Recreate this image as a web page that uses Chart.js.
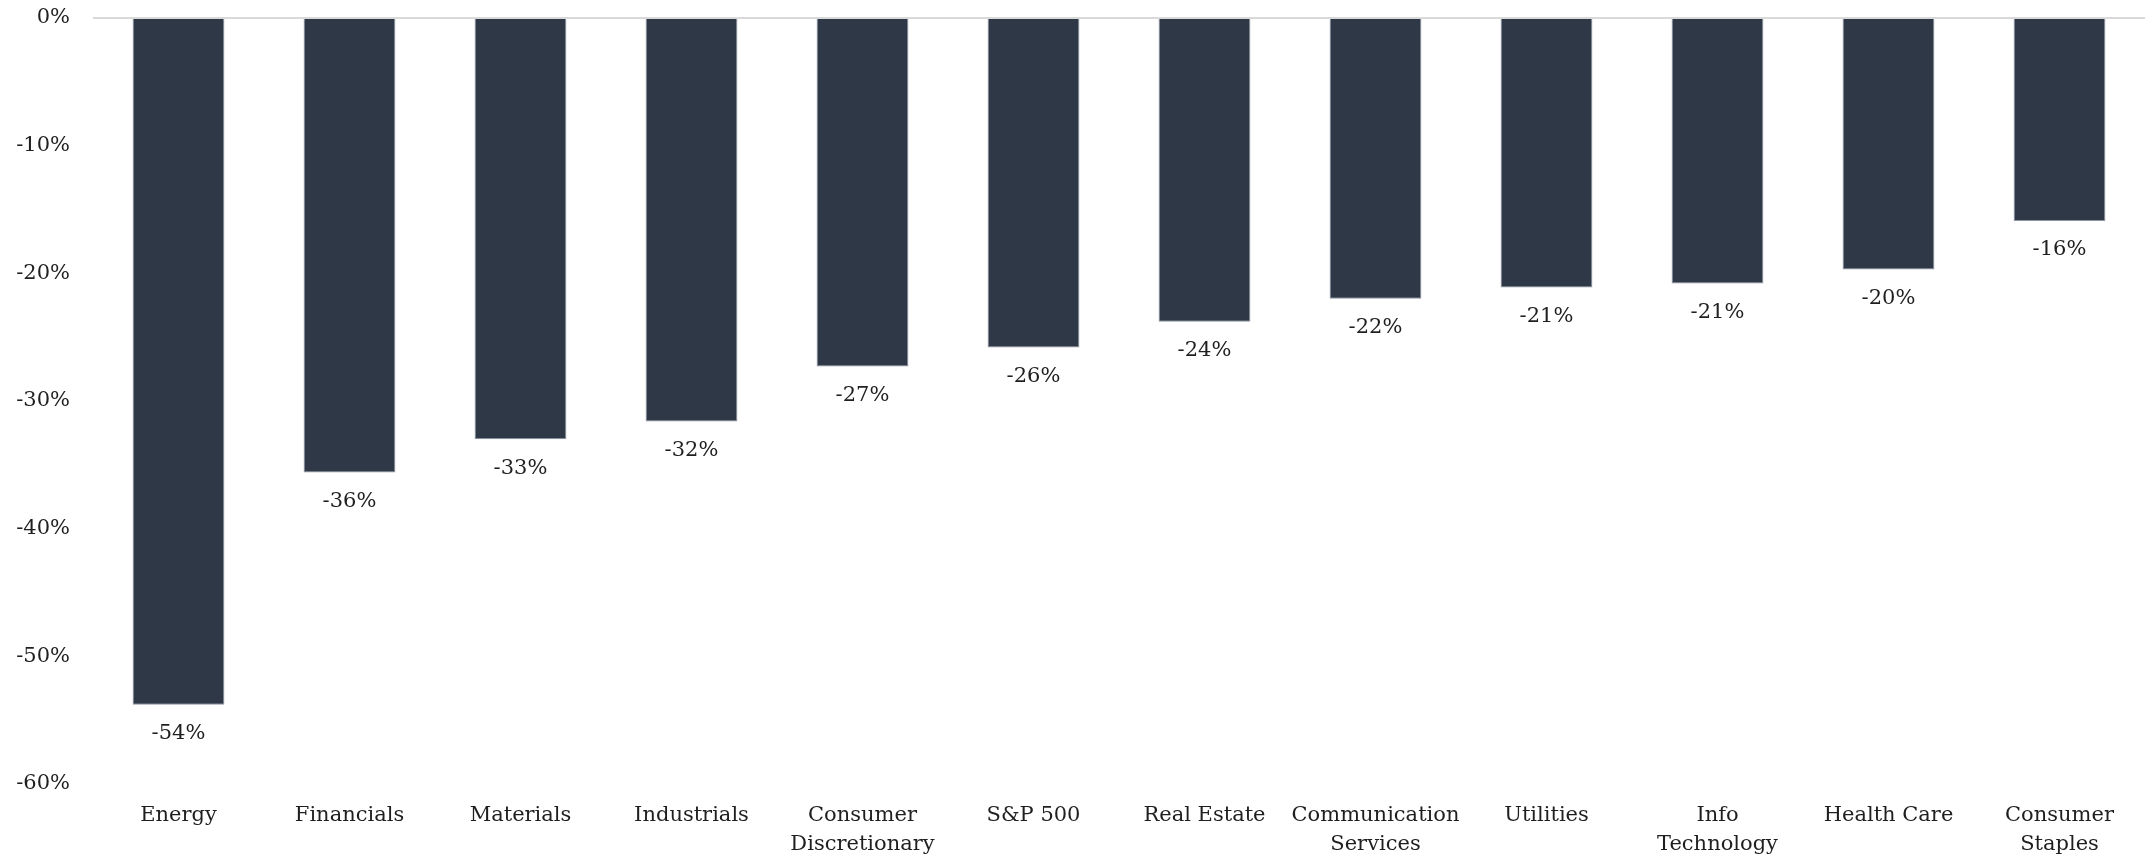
<!DOCTYPE html>
<html>
<head>
<meta charset="utf-8">
<script src="https://cdn.jsdelivr.net/npm/chart.js@4/dist/chart.umd.min.js"></script>
<style>
    html, body { margin: 0; padding: 0; background: #ffffff; }
    #wrap { width: 2148px; height: 857px; }
</style>
</head>
<body>
<div id="wrap"><canvas id="chart" width="2148" height="857"></canvas></div>
<script>
// sector drawdowns, in percent
const sectors = [
    "Energy",
    "Financials",
    "Materials",
    "Industrials",
    ["Consumer", "Discretionary"],
    "S&P 500",
    "Real Estate",
    ["Communication", "Services"],
    "Utilities",
    ["Info", "Technology"],
    "Health Care",
    ["Consumer", "Staples"]
];
const drawdowns = [-53.8, -35.6, -33.0, -31.6, -27.3, -25.8, -23.8, -22.0, -21.1, -20.8, -19.7, -15.9];
const yTicks = [0, -10, -20, -30, -40, -50, -60];

const BAR = "#2e3847";
const TEXT = "#1f1f1f";
const FONT = "'DejaVu Serif', 'Liberation Serif', serif";

function pct(v) {
    const r = Math.round(Math.abs(v));
    return (v < 0 && r !== 0 ? "-" : "") + r + "%";
}

// percentage printed under the end of each bar
const valueLabels = {
    id: "valueLabels",
    afterDatasetsDraw(chart) {
        const ctx = chart.ctx;
        const meta = chart.getDatasetMeta(0);
        ctx.save();
        ctx.font = "21px " + FONT;
        ctx.fillStyle = TEXT;
        ctx.textAlign = "center";
        ctx.textBaseline = "middle";
        meta.data.forEach((bar, i) => {
            ctx.fillText(pct(drawdowns[i]), bar.x, bar.y + 29);
        });
        ctx.restore();
    }
};

new Chart(document.getElementById("chart"), {
    type: "bar",
    data: {
        labels: sectors,
        datasets: [{
            data: drawdowns,
            backgroundColor: BAR,
            borderColor: "#8c95a1",
            borderWidth: 1,
            barPercentage: 0.537,
            categoryPercentage: 1
        }]
    },
    options: {
        responsive: false,
        animation: false,
        layout: { padding: { top: 18, right: 3, left: 0, bottom: 0 } },
        plugins: {
            legend: { display: false },
            tooltip: { enabled: false }
        },
        scales: {
            x: {
                grid: { display: false, drawTicks: false },
                border: { display: false },
                ticks: {
                    color: TEXT,
                    font: { family: FONT, size: 21, lineHeight: 1.38 },
                    padding: 17,
                    maxRotation: 0,
                    autoSkip: false
                },
                afterFit(scale) { scale.height = 73; }
            },
            y: {
                min: -60,
                max: 0,
                afterBuildTicks(scale) {
                    scale.ticks = yTicks.map(v => ({ value: v }));
                },
                grid: {
                    drawTicks: false,
                    lineWidth: 2,
                    color: ctx => ctx.tick && ctx.tick.value === 0 ? "#d9d9d9" : "rgba(0,0,0,0)"
                },
                border: { display: false },
                ticks: {
                    color: TEXT,
                    font: { family: FONT, size: 21 },
                    padding: 23,
                    callback: v => v + "%"
                },
                afterFit(scale) {
                    // keep the label padding from pushing the plot area down
                    scale.width = 93;
                    scale.paddingTop = 0;
                    scale.paddingBottom = 0;
                }
            }
        }
    },
    plugins: [valueLabels]
});
</script>
</body>
</html>
